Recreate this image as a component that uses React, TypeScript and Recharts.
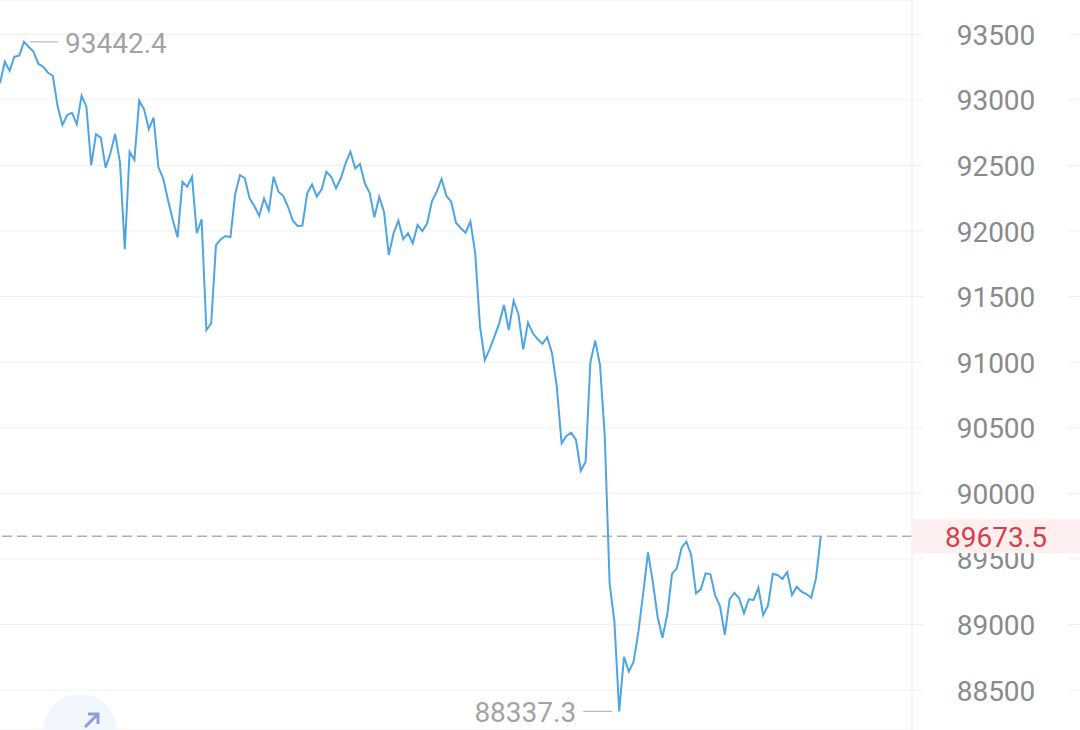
import React from 'react';
import { LineChart, Line, XAxis, YAxis, CartesianGrid, ReferenceLine } from 'recharts';

// price samples, one per step
const prices = [
  93126, 93291, 93222, 93329, 93337, 93442.4, 93403, 93367, 93274, 93253,
  93207, 93184, 92953, 92808, 92885, 92902, 92814, 93032, 92948, 92503,
  92738, 92712, 92483, 92593, 92740, 92521, 91861, 92605, 92542, 92994,
  92930, 92776, 92864, 92486, 92402, 92237, 92084, 91952, 92376, 92338,
  92414, 91983, 92089, 91245, 91296, 91893, 91937, 91962, 91952, 92282,
  92427, 92402, 92249, 92191, 92115, 92249, 92155, 92414, 92300, 92269,
  92185, 92079, 92038, 92041, 92288, 92356, 92262, 92318, 92452, 92414,
  92326, 92402, 92516, 92605, 92478, 92511, 92364, 92292, 92105, 92262,
  92147, 91817, 91983, 92079, 91937, 91983, 91906, 92046, 92000, 92059,
  92229, 92300, 92397, 92267, 92224, 92063, 92021, 91987, 92073, 91832,
  91270, 91017, 91098, 91194, 91296, 91436, 91245, 91469, 91367, 91098,
  91301, 91220, 91177, 91139, 91190, 91068, 90813, 90381, 90437, 90462,
  90407, 90172, 90241, 91001, 91164, 90978, 90432, 89314, 89021, 88337.3,
  88754, 88640, 88716, 88945, 89238, 89550, 89326, 89059, 88899, 89072,
  89385, 89428, 89585, 89631, 89530, 89238, 89268, 89390, 89382, 89219,
  89141, 88920, 89192, 89242, 89200, 89085, 89192, 89187, 89280, 89072,
  89143, 89385, 89377, 89347, 89398, 89225, 89288, 89250, 89232, 89204,
  89352, 89673.5,
];

const yTicks = [88500, 89000, 89500, 90000, 90500, 91000, 91500, 92000, 92500, 93000, 93500];
const yDomain = [88195.3, 93761.5];
const totalSlots = 190;

const data = prices.map((p, i) => ({ i, p }));
const maxIdx = prices.indexOf(Math.max(...prices));
const minIdx = prices.indexOf(Math.min(...prices));
const lastPrice = prices[prices.length - 1];

const W = 1080;
const H = 730;
const AXIS_W = 167;
const FONT = 'Roboto, "Noto Sans", sans-serif';
const AXIS_LEFT = W - AXIS_W - 1;

const AxisTick = (props: any) => {
  const { y, payload } = props;
  return (
    <g>
      <line x1={AXIS_LEFT} x2={W} y1={y} y2={y} stroke="#f0f0f0" strokeWidth={1} />
      <rect x={AXIS_LEFT + 11} y={y - 16} width={145} height={32} fill="#fff" />
      <text
        x={AXIS_LEFT + 84}
        y={y + 1}
        textAnchor="middle"
        dominantBaseline="central"
        fill="#8a8a8a"
        fontSize={28}
        fontFamily={FONT}
      >
        {payload.value}
      </text>
    </g>
  );
};

// current price tag, drawn by a second thin axis so it sits over the price ticks
const PriceTag = (props: any) => {
  const { y } = props;
  return (
    <g>
      <rect x={AXIS_LEFT} y={y - 17} width={W - AXIS_LEFT} height={34} fill="#fdeff0" />
      <text
        x={AXIS_LEFT + 84}
        y={y + 1}
        textAnchor="middle"
        dominantBaseline="central"
        fill="#d63f4c"
        fontSize={28}
        fontFamily={FONT}
      >
        {lastPrice.toFixed(1)}
      </text>
    </g>
  );
};

const MarkDot = (props: any) => {
  const { cx, cy, index } = props;
  if (index === maxIdx) {
    return (
      <g key="max-dot">
        <line x1={cx + 6} x2={cx + 34} y1={cy} y2={cy} stroke="#b8b8b8" strokeWidth={1.2} />
        <text x={cx + 41} y={cy + 2} dominantBaseline="central" fill="#a3a3a3" fontSize={28} fontFamily={FONT}>
          {prices[maxIdx].toFixed(1)}
        </text>
      </g>
    );
  }
  if (index === minIdx) {
    return (
      <g key="min-dot">
        <line x1={cx - 36} x2={cx - 7} y1={cy} y2={cy} stroke="#b8b8b8" strokeWidth={1.2} />
        <text x={cx - 43} y={cy + 1} textAnchor="end" dominantBaseline="central" fill="#a3a3a3" fontSize={28} fontFamily={FONT}>
          {prices[minIdx].toFixed(1)}
        </text>
      </g>
    );
  }
  return <g key={`d-${index}`} />;
};

export default function App() {
  return (
    <div style={{ position: 'absolute', left: 0, top: 0, width: W, height: H, background: '#fff', overflow: 'hidden' }}>
      <LineChart width={W} height={H} data={data} margin={{ top: 0, right: 0, bottom: 0, left: 0 }}>
        <CartesianGrid horizontal vertical={false} stroke="#f0f0f0" strokeWidth={1} />
        <XAxis type="number" dataKey="i" domain={[0, totalSlots]} hide />
        <YAxis
          orientation="right"
          type="number"
          width={1}
          domain={yDomain}
          ticks={yTicks}
          allowDataOverflow
          axisLine={{ stroke: '#f0f0f0', strokeWidth: 1.5 }}
          tickLine={false}
          tick={<AxisTick />}
          interval={0}
        />
        <YAxis
          yAxisId="tag"
          orientation="right"
          type="number"
          width={AXIS_W}
          domain={yDomain}
          ticks={[lastPrice]}
          allowDataOverflow
          axisLine={false}
          tickLine={false}
          tick={<PriceTag />}
          interval={0}
        />
        <ReferenceLine y={lastPrice} stroke="#b0b0b0" strokeWidth={1.5} strokeDasharray="10 5" />
        <Line
          type="linear"
          dataKey="p"
          stroke="#4ea5e4"
          strokeWidth={2}
          dot={MarkDot}
          activeDot={false}
          isAnimationActive={false}
        />
      </LineChart>
      <svg width={W} height={H} style={{ position: 'absolute', left: 0, top: 0, pointerEvents: 'none' }}>
        <circle cx={80} cy={731} r={37} fill="#f2f7fd" />
        <path d="M85 727 L98 714 M88 714 L98 714 L98 724" stroke="#8e9be0" strokeWidth={3} fill="none" />
      </svg>
    </div>
  );
}
